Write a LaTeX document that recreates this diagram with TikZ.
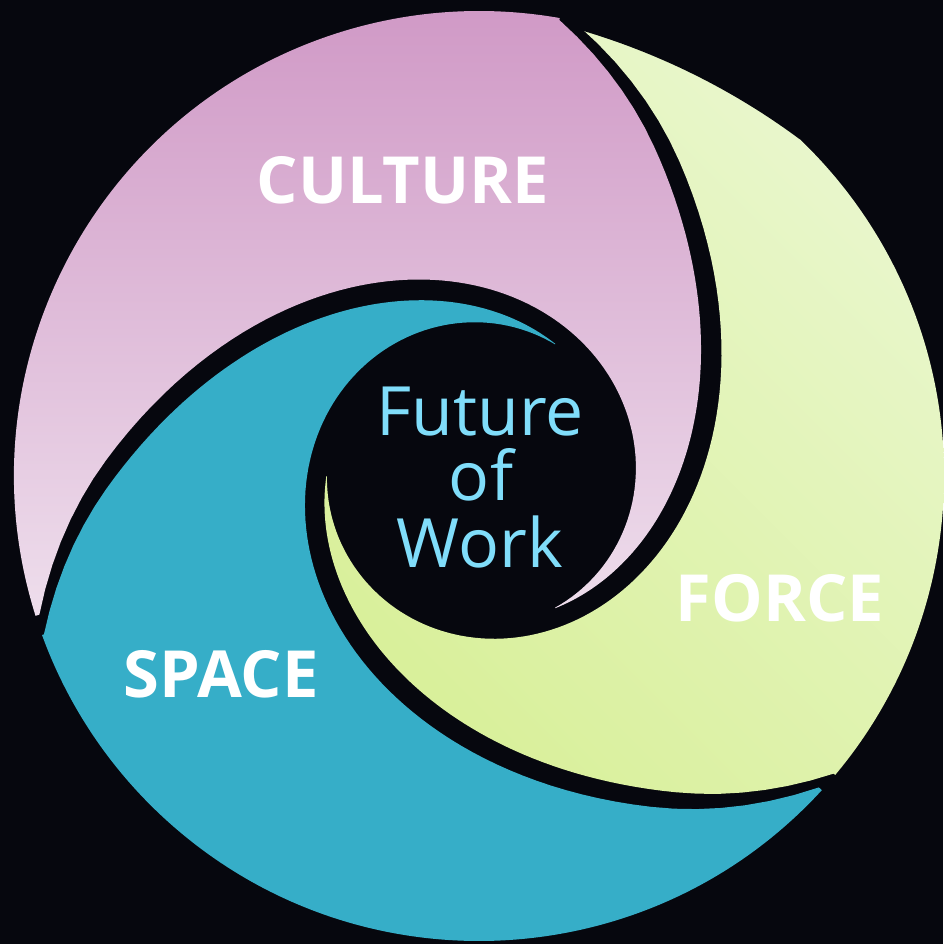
\documentclass[tikz,border=0pt]{standalone}
\usepackage{fontspec}
\setmainfont{Open Sans}
\definecolor{bgc}{RGB}{6,7,14}
\definecolor{pinktop}{RGB}{208,153,198}
\definecolor{pinkbot}{RGB}{238,222,236}
\definecolor{limelight}{RGB}{234,247,208}
\definecolor{limedark}{RGB}{217,240,155}
\definecolor{tealc}{RGB}{54,174,200}
\definecolor{fowblue}{RGB}{128,221,250}
% one swirl arm, in polar coordinates round the centre, turned by #1 degrees
\newcommand\armpath[1]{%
  ({#1+42.5}:465) arc[start angle={#1+42.5}, end angle={#1+160}, radius=465]
  -- plot[domain=0:18, samples=8] ({#1+160+\x}:{463-5*\x})
  -- plot[domain=18:140, samples=70] ({#1+160+\x}:{134+239*exp(-0.02092*(\x-18))})
  -- plot[domain=257.5:20, samples=100] ({#1+42.5+\x}:{150+223*exp(-0.01973*(\x-20))})
  -- plot[domain=20:0, samples=8] ({#1+42.5+\x}:{461-4.4*\x})
  -- cycle}
\begin{document}
\begin{tikzpicture}[x=1pt,y=-1pt,
  armlabel/.style={font=\fontsize{65}{65}\selectfont\bfseries, text=white, anchor=base, inner sep=0pt},
  fowtext/.style={font=\fontsize{68}{68}\selectfont, text=fowblue, anchor=base, inner sep=0pt}]
\fill[bgc] (0,0) rectangle (943,944);
\useasboundingbox (0,0) rectangle (943,944);
% SPACE (teal)
\fill[tealc, shift={(479,476)}] \armpath{0};
% CULTURE (pink)
\shade[shift={(479,476)}, top color=pinktop, bottom color=pinkbot] \armpath{120};
% FORCE (lime)
\shade[shift={(479,476)}, top color=limelight, bottom color=limedark, shading angle=-45] \armpath{-120};
% flattened rim at the head of the lime arm
\fill[bgc, shift={(479,476)}] (-78.5:472) -- (-78.5:457)
  -- plot[domain=0:31, samples=40] ({-77.5+\x}:{465-(1-\x/31)*(7.5+0.75*\x)})
  -- (-46.5:472) arc[start angle=-46.5, end angle=-78.5, radius=472] -- cycle;
% labels
\node[armlabel] (culture) at (403,203) {CULTURE};
\node[armlabel] (force) at (780,621) {FORCE};
\node[armlabel] (space) at (221,697) {SPACE};
\node[fowtext] (future) at (480,435) {Future};
\node[fowtext] (of) at (481,500) {of};
\node[fowtext] (work) at (480,567) {Work};
\end{tikzpicture}
\end{document}
